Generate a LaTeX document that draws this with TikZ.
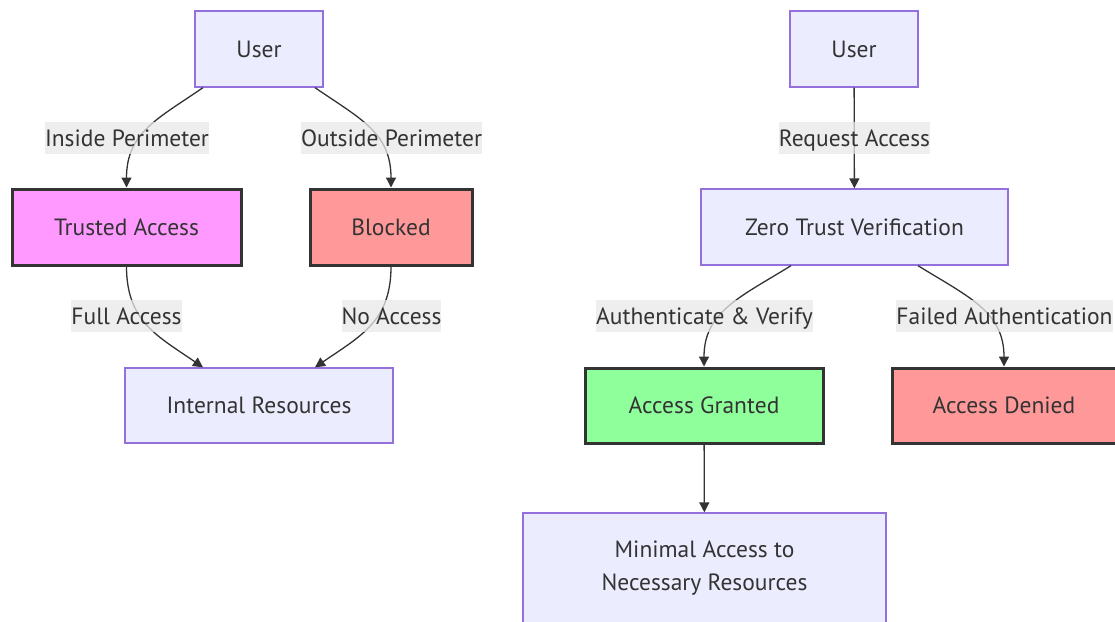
\documentclass[tikz,border=0pt]{standalone}
\usepackage{fontspec}
\setmainfont{PT Sans}
\usetikzlibrary{arrows.meta,calc}
\definecolor{nodefill}{HTML}{ECECFF}
\definecolor{nodeline}{HTML}{9370DB}
\definecolor{ink}{HTML}{333333}
\definecolor{labelbg}{HTML}{E8E8E8}
\definecolor{pinkfill}{HTML}{FF99FF}
\definecolor{redfill}{HTML}{FF9999}
\definecolor{greenfill}{HTML}{8FFF9C}
\tikzset{
  base/.style={rectangle, inner sep=0pt, align=center, text=ink, font=\fontsize{23.5}{33}\selectfont},
  plain/.style={base, fill=nodefill, draw=nodeline, line width=1.3pt},
  strong/.style={base, draw=ink, line width=3pt},
  elabel/.style={rectangle, inner sep=0pt, fill=labelbg, fill opacity=0.75, text opacity=1, text=ink, font=\fontsize{23.5}{28}\selectfont, minimum height=32pt, text height=18pt, text depth=2pt},
  conn/.style={draw=ink, line width=1.3pt, -{Triangle[length=10pt,width=10pt]}}
}
\begin{document}
\begin{tikzpicture}[x=1pt,y=-1pt]
\useasboundingbox (0,0) rectangle (1115,621);
\clip (0,0) rectangle (1115,621);
% left diagram
\node[plain, minimum width=128pt, minimum height=76pt] (u1) at (259,49) {User};
\node[strong, fill=pinkfill, minimum width=229pt, minimum height=76pt] (ta) at (126.5,227) {Trusted Access};
\node[strong, fill=redfill, minimum width=162pt, minimum height=76pt] (bl) at (391,227) {Blocked};
\node[plain, minimum width=268pt, minimum height=75pt] (ir) at (259,405.5) {Internal Resources};
% right diagram
\node[plain, minimum width=128pt, minimum height=76pt] (u2) at (854,49) {User};
\node[plain, minimum width=307pt, minimum height=76pt] (zt) at (854.5,227) {Zero Trust Verification};
\node[strong, fill=greenfill, minimum width=238pt, minimum height=75pt] (ag) at (704,405.5) {Access Granted};
\node[strong, fill=redfill, minimum width=224pt, minimum height=75pt] (ad) at (1004,405.5) {Access Denied};
\node[plain, minimum width=363pt, minimum height=110pt] (mr) at (704.5,568) {Minimal Access to\\Necessary Resources};
% connectors
\draw[conn] ([xshift=-56pt]u1.south) .. controls ($([xshift=-56pt]u1.south)+(-45,31)$) and ($(ta.north)+(0,-55)$) .. (ta.north);
\draw[conn] ([xshift=56pt]u1.south) .. controls ($([xshift=56pt]u1.south)+(45,31)$) and ($(bl.north)+(0,-55)$) .. (bl.north);
\draw[conn] (ta.south) .. controls ($(ta.south)+(0,55)$) and ($([xshift=-56pt]ir.north)+(-45,-31)$) .. ([xshift=-56pt]ir.north);
\draw[conn] (bl.south) .. controls ($(bl.south)+(0,55)$) and ($([xshift=56pt]ir.north)+(45,-31)$) .. ([xshift=56pt]ir.north);
\draw[conn] (u2) -- (zt);
\draw[conn] ([xshift=-63.5pt]zt.south) .. controls ($([xshift=-63.5pt]zt.south)+(-50,31)$) and ($(ag.north)+(0,-55)$) .. (ag.north);
\draw[conn] ([xshift=63.5pt]zt.south) .. controls ($([xshift=63.5pt]zt.south)+(50,31)$) and ($(ad.north)+(0,-55)$) .. (ad.north);
\draw[conn] (ag) -- (mr);
% edge labels
\node[elabel, minimum width=164pt] (l1) at (127,138) {Inside Perimeter};
\node[elabel, minimum width=181pt] (l2) at (391.5,138) {Outside Perimeter};
\node[elabel, minimum width=107pt] (l3) at (126.5,316) {Full Access};
\node[elabel, minimum width=97pt] (l4) at (391.5,316) {No Access};
\node[elabel, minimum width=149pt] (l5) at (854.5,138) {Request Access};
\node[elabel, minimum width=217pt] (l6) at (704.5,316) {Authenticate \& Verify};
\node[elabel, minimum width=215pt] (l7) at (1004.5,316) {Failed Authentication};
\end{tikzpicture}
\end{document}
